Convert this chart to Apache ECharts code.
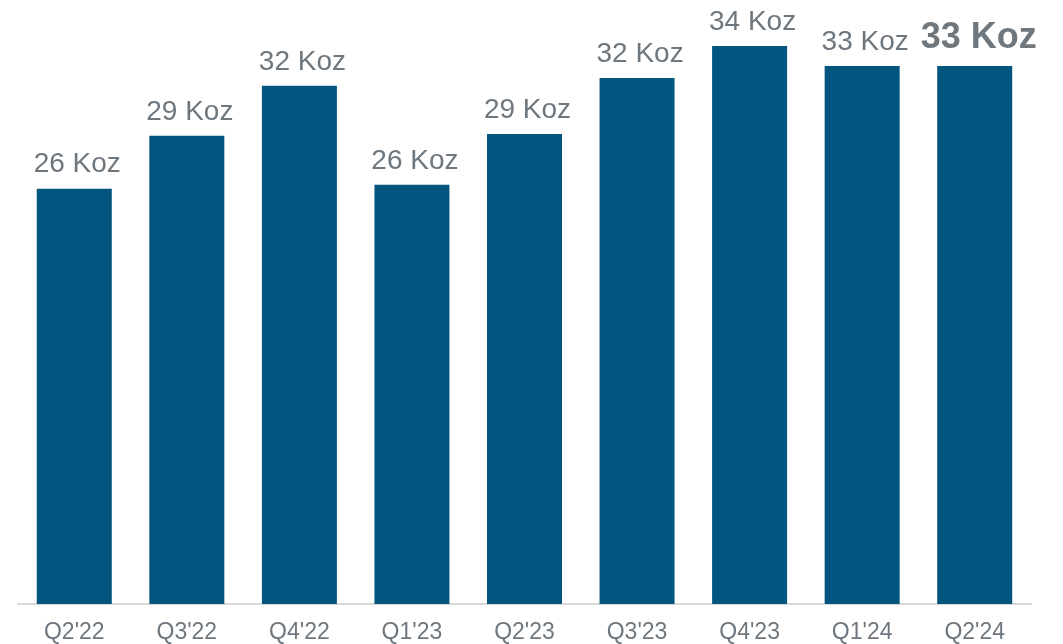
<!DOCTYPE html>
<html>
<head>
<meta charset="utf-8">
<script src="https://cdn.jsdelivr.net/npm/echarts@6/dist/echarts.min.js"></script>
<style>
html,body{margin:0;padding:0;background:#fff;}
#chart{width:1063px;height:644px;}
</style>
</head>
<body>
<div id="chart"></div>
<script>
const categories = ["Q2'22","Q3'22","Q4'22","Q1'23","Q2'23","Q3'23","Q4'23","Q1'24","Q2'24"];
const values = [25.94, 28.9, 31.7, 26.16, 29.0, 32.14, 33.93, 32.81, 32.81];
const unit = "Koz";

const font = "'Liberation Sans', Arial, sans-serif";
const labelColor = '#6f777e';
const barColor = '#02557f';

const seriesData = values.map((v, i) => {
  const item = { value: v };
  if (i === values.length - 1) {
    item.label = { fontSize: 36, fontWeight: 'bold', distance: 10, offset: [4, 0] };
  }
  return item;
});

const chart = echarts.init(document.getElementById('chart'), null, { renderer: 'canvas' });
chart.setOption({
  animation: false,
  backgroundColor: '#ffffff',
  grid: { left: 18, right: 32, top: 9, bottom: 39, containLabel: false },
  xAxis: {
    type: 'category',
    data: categories,
    axisLine: { show: true, lineStyle: { color: '#d9d9d9', width: 2 } },
    axisTick: { show: false },
    axisLabel: { color: labelColor, fontSize: 23, fontFamily: font, margin: 17 }
  },
  yAxis: {
    type: 'value',
    min: 2.7,
    max: 36,
    show: false,
    splitLine: { show: false }
  },
  series: [{
    type: 'bar',
    data: seriesData,
    barWidth: 75,
    itemStyle: { color: barColor },
    label: {
      show: true,
      position: 'top',
      distance: 10,
      offset: [3, 0],
      color: labelColor,
      fontSize: 28,
      fontFamily: font,
      formatter: p => Math.round(p.value) + ' ' + unit
    }
  }]
});
</script>
</body>
</html>
